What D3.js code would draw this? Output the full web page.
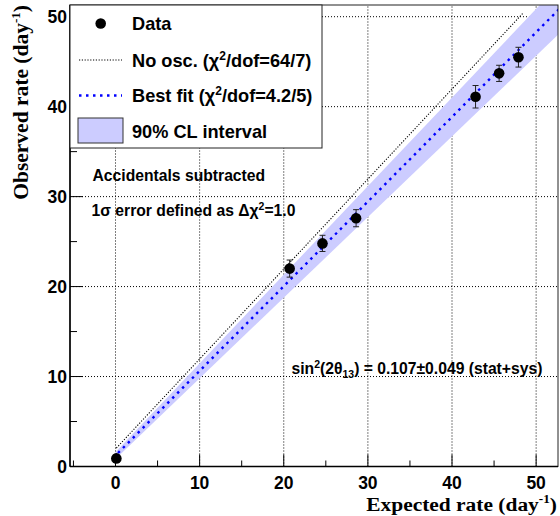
<!DOCTYPE html>
<html><head><meta charset="utf-8">
<script src="https://cdn.jsdelivr.net/npm/d3@7"></script>
<style>body{margin:0;background:#fff}svg{display:block}</style>
</head><body><svg id="c" width="560" height="516"></svg>
<script>
// ---- data ----
const expected = [0.1, 20.7, 24.6, 28.6, 42.8, 45.6, 47.9];
const observed = [0.9, 22.0, 24.8, 27.6, 41.1, 43.7, 45.5];
const errors   = [0.4, 0.95, 0.9, 0.95, 1.25, 0.9, 1.1];
const xTicks = [0, 10, 20, 30, 40, 50];
const yTicks = [0, 10, 20, 30, 40, 50];
const xMinor = [-5, 5, 15, 25, 35, 45];
const yMinor = [5, 15, 25, 35, 45];
const noOscLine = [1.0, 1.95];      // slope, intercept
const noOscRange = [0.1, 48.5];
const bestFitLine = [0.941, 1.22];
const bestFitRange = [0.3, 60];
const bandUpper = [0.985, 1.62];
const bandLower = [0.897, 0.82];
const bandRange = [0.0, 60];
const legendLabels = ["Data", "No osc.", "Best fit", "90% CL interval"];

// ---- layout ----
const L = 70, R = 558, T = 5, B = 466.5;
const x = d3.scaleLinear().domain([-5.41, 52.6]).range([L, R]);
const y = d3.scaleLinear().domain([0, 51.3]).range([B, T]);
const svg = d3.select("#c");
const sans = "'Liberation Sans', Arial, Helvetica, sans-serif";
const serif = "'Liberation Serif', 'Times New Roman', serif";

svg.append("defs").append("clipPath").attr("id","clip")
  .append("rect").attr("x",L).attr("y",T).attr("width",R-L).attr("height",B-T);

const plot = svg.append("g").attr("clip-path","url(#clip)");

// grid
plot.selectAll(".gx").data(xTicks).join("line")
  .attr("x1",d=>x(d)).attr("x2",d=>x(d)).attr("y1",B).attr("y2",T)
  .attr("stroke","#000").attr("stroke-width",1).attr("stroke-dasharray","1,2");
plot.selectAll(".gy").data(yTicks.filter(d=>d>0)).join("line")
  .attr("y1",d=>y(d)).attr("y2",d=>y(d)).attr("x1",L).attr("x2",R)
  .attr("stroke","#000").attr("stroke-width",1).attr("stroke-dasharray","1,2");

// band
const bandPts = [bandRange[0], bandRange[1]];
const bandPoly = [
  ...bandPts.map(v=>[x(v), y(bandUpper[0]*v+bandUpper[1])]),
  ...bandPts.slice().reverse().map(v=>[x(v), y(bandLower[0]*v+bandLower[1])])
];
plot.append("path").attr("d", d3.line()(bandPoly) + "Z").attr("fill","#ccccff");

// no osc line
plot.append("line")
  .attr("x1",x(noOscRange[0])).attr("y1",y(noOscLine[0]*noOscRange[0]+noOscLine[1]))
  .attr("x2",x(noOscRange[1])).attr("y2",y(noOscLine[0]*noOscRange[1]+noOscLine[1]))
  .attr("stroke","#000").attr("stroke-width",1.1).attr("stroke-dasharray","1.2,1.6");
// best fit
plot.append("line")
  .attr("x1",x(bestFitRange[0])).attr("y1",y(bestFitLine[0]*bestFitRange[0]+bestFitLine[1]))
  .attr("x2",x(bestFitRange[1])).attr("y2",y(bestFitLine[0]*bestFitRange[1]+bestFitLine[1]))
  .attr("stroke","#0000ff").attr("stroke-width",2.4).attr("stroke-dasharray","2.5,4.5");

// data
const pts = expected.map((e,i)=>({e, o:observed[i], err:errors[i]}));
const dg = plot.append("g");
dg.selectAll(".eb").data(pts).join("line")
  .attr("x1",d=>x(d.e)).attr("x2",d=>x(d.e)).attr("y1",d=>y(d.o-d.err)).attr("y2",d=>y(d.o+d.err))
  .attr("stroke","#222").attr("stroke-width",1);
dg.selectAll(".ct").data(pts).join("line")
  .attr("x1",d=>x(d.e)-3).attr("x2",d=>x(d.e)+3).attr("y1",d=>y(d.o+d.err)).attr("y2",d=>y(d.o+d.err))
  .attr("stroke","#222").attr("stroke-width",1);
dg.selectAll(".cb").data(pts).join("line")
  .attr("x1",d=>x(d.e)-3).attr("x2",d=>x(d.e)+3).attr("y1",d=>y(d.o-d.err)).attr("y2",d=>y(d.o-d.err))
  .attr("stroke","#222").attr("stroke-width",1);
dg.selectAll("circle").data(pts).join("circle")
  .attr("cx",d=>x(d.e)).attr("cy",d=>y(d.o)).attr("r",5.3).attr("fill","#000");

// frame
svg.append("rect").attr("x",L).attr("y",T).attr("width",R-L).attr("height",B-T)
  .attr("fill","none").attr("stroke","#222").attr("stroke-width",1);
svg.append("line").attr("x1",L).attr("x2",L).attr("y1",T).attr("y2",B).attr("stroke","#000").attr("stroke-width",1.5);
svg.append("line").attr("x1",L).attr("x2",R).attr("y1",B).attr("y2",B).attr("stroke","#000").attr("stroke-width",1.5);

// ticks
svg.selectAll(".xt").data(xTicks).join("line")
  .attr("x1",d=>x(d)).attr("x2",d=>x(d)).attr("y1",B).attr("y2",B-12).attr("stroke","#000");
svg.selectAll(".xm").data(xMinor).join("line")
  .attr("x1",d=>x(d)).attr("x2",d=>x(d)).attr("y1",B).attr("y2",B-6).attr("stroke","#000");
svg.selectAll(".yt").data(yTicks).join("line")
  .attr("y1",d=>y(d)).attr("y2",d=>y(d)).attr("x1",L).attr("x2",L+13).attr("stroke","#000");
svg.selectAll(".ym").data(yMinor).join("line")
  .attr("y1",d=>y(d)).attr("y2",d=>y(d)).attr("x1",L).attr("x2",L+7).attr("stroke","#000");

// tick labels
svg.selectAll(".xl").data(xTicks).join("text")
  .attr("x",d=>x(d)).attr("y",488.5).attr("text-anchor","middle")
  .attr("font-family",sans).attr("font-weight","bold").attr("font-size",17.5).text(d=>d);
svg.selectAll(".yl").data(yTicks).join("text")
  .attr("x",67).attr("y",d=>y(d)+6.3).attr("text-anchor","end")
  .attr("font-family",sans).attr("font-weight","bold").attr("font-size",17.5).text(d=>d);

// axis titles
const xt = svg.append("text").attr("transform","translate(557,510.5) scale(1.1,1)").attr("text-anchor","end")
  .attr("font-family",serif).attr("font-weight","bold").attr("font-size",19.5);
xt.append("tspan").text("Expected rate (day");
xt.append("tspan").attr("dy",-7.5).attr("font-size",12).text("-1");
xt.append("tspan").attr("dy",7.5).text(")");
const yt = svg.append("text").attr("transform","translate(28,5) rotate(-90)").attr("text-anchor","end")
  .attr("font-family",serif).attr("font-weight","bold").attr("font-size",21.5);
yt.append("tspan").text("Observed rate (day");
yt.append("tspan").attr("dy",-8).attr("font-size",13).text("-1");
yt.append("tspan").attr("dy",8).text(")");

// legend
const lg = svg.append("g");
lg.append("rect").attr("x",L).attr("y",T).attr("width",322-L).attr("height",148-T)
  .attr("fill","#fff").attr("stroke","#222").attr("stroke-width",1);
const rowY = [23.5, 60, 95.5, 131.5];
const tx = 132, fs = 18.2;
lg.append("circle").attr("cx",100.7).attr("cy",rowY[0]).attr("r",5.3).attr("fill","#000");
lg.append("line").attr("x1",79).attr("x2",122).attr("y1",rowY[1]).attr("y2",rowY[1])
  .attr("stroke","#000").attr("stroke-width",1.1).attr("stroke-dasharray","1.2,1.6");
lg.append("line").attr("x1",79).attr("x2",122).attr("y1",rowY[2]).attr("y2",rowY[2])
  .attr("stroke","#0000ff").attr("stroke-width",2.4).attr("stroke-dasharray","2.5,4.5");
lg.append("rect").attr("x",78).attr("y",118).attr("width",45).attr("height",25)
  .attr("fill","#ccccff").attr("stroke","#333").attr("stroke-width",1);
function ltext(i){
  return lg.append("text").attr("x",tx).attr("y",rowY[i]+6.5).attr("font-family",sans)
    .attr("font-weight","bold").attr("font-size",fs);
}
ltext(0).text(legendLabels[0]);
{
  const t = ltext(1);
  t.append("tspan").text(legendLabels[1] + " (χ");
  t.append("tspan").attr("dy",-7).attr("font-size",12).text("2");
  t.append("tspan").attr("dy",7).text("/dof=64/7)");
}
{
  const t = ltext(2);
  t.append("tspan").text(legendLabels[2] + " (χ");
  t.append("tspan").attr("dy",-7).attr("font-size",12).text("2");
  t.append("tspan").attr("dy",7).text("/dof=4.2/5)");
}
ltext(3).text(legendLabels[3]);

// annotations
const afs = 15.7;
svg.append("text").attr("x",92.5).attr("y",180.5).attr("font-family",sans).attr("font-weight","bold")
  .attr("font-size",afs).text("Accidentals subtracted");
{
  const t = svg.append("text").attr("x",91.5).attr("y",215.5).attr("font-family",sans).attr("font-weight","bold").attr("font-size",afs);
  t.append("tspan").text("1σ error defined as Δχ");
  t.append("tspan").attr("dy",-6).attr("font-size",10.5).text("2");
  t.append("tspan").attr("dy",6).text("=1.0");
}
{
  const t = svg.append("text").attr("x",291.5).attr("y",373.5).attr("font-family",sans).attr("font-weight","bold").attr("font-size",afs);
  t.append("tspan").text("sin");
  t.append("tspan").attr("dy",-6).attr("font-size",10.5).text("2");
  t.append("tspan").attr("dy",6).text("(2θ");
  t.append("tspan").attr("dy",4).attr("font-size",10.5).text("13");
  t.append("tspan").attr("dy",-4).text(") = 0.107±0.049 (stat+sys)");
}
</script></body></html>
